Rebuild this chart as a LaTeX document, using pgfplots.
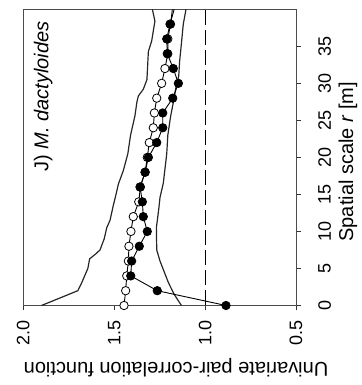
\documentclass[border=0pt]{standalone}
\usepackage{pgfplots}
\pgfplotsset{compat=1.18}
\usepackage{fontspec}
\setmainfont{Liberation Sans}
\begin{document}
\begin{tikzpicture}
\begin{axis}[
  scale only axis, width=272.7pt, height=296.2pt,
  xmin=0.5, xmax=2.0, x dir=reverse,
  ymin=0, ymax=40,
  xtick={0.5,1.0,1.5,2.0},
  xticklabels={0.5,1.0,1.5,2.0},
  ytick={0,5,...,35},
  xtick pos=left, ytick pos=right,
  tick align=outside, major tick length=5pt,
  tick style={black!80, line width=0.8pt},
  axis line style={black!70, line width=1pt},
  /pgf/number format/assume math mode=true,
  ticklabel style={font=\fontsize{18}{20}\selectfont},
  xticklabel style={rotate=90, anchor=east, inner sep=0pt},
  yticklabel style={rotate=90, anchor=north, inner sep=0pt},
  xticklabel shift=9.5pt,
  yticklabel shift=17pt,
  xlabel={Univariate pair-correlation function},
  ylabel={Spatial scale \textit{r} [m]},
  every axis x label/.style={at={(axis description cs:0.56,0)}, yshift=-62.5pt, rotate=180, anchor=center, font=\fontsize{20}{24}\selectfont},
  every axis y label/.style={at={(axis description cs:1,0.4855)}, xshift=52pt, rotate=90, anchor=center, font=\fontsize{20}{24}\selectfont},
  clip=true,
]
% dashed reference
\addplot[black, line width=0.9pt, dash pattern=on 15pt off 5pt] coordinates {(1,0) (1,40)};
% upper envelope
\addplot[black!85, line width=1.2pt] coordinates {
(1.90,0) (1.70,2) (1.68,3) (1.645,5) (1.635,6.3) (1.60,7) (1.578,7.5) (1.555,9) (1.541,10.5) (1.523,11.5) (1.505,13.5) (1.49,15) (1.477,16.4) (1.45,18.2) (1.425,20.5) (1.41,23) (1.386,25.6) (1.375,27.5) (1.367,28.3) (1.34,29.2) (1.32,30.5) (1.312,34.3) (1.294,35.7) (1.276,38.4) (1.29,40)
};
% lower envelope
\addplot[black!85, line width=1.2pt] coordinates {
(1.13,0) (1.17,1.5) (1.202,3.1) (1.248,6) (1.266,7.5) (1.268,10.5) (1.255,13) (1.248,14.6) (1.23,16.5) (1.211,20.5) (1.205,23) (1.19,25.5) (1.175,27.4) (1.16,29.5) (1.145,31) (1.14,33) (1.129,35.7) (1.12,38) (1.105,40)
};
% line stubs to top
\addplot[black, line width=0.9pt] coordinates {(1.19,38) (1.18,40)};
\addplot[black, line width=0.9pt] coordinates {(1.193,38) (1.17,40)};
% open circles
\addplot[black, line width=0.9pt, mark=*, mark size=4.2pt, mark options={fill=white, line width=0.8pt}] coordinates {
(1.446,0) (1.437,2) (1.431,4) (1.422,6) (1.419,8) (1.408,10) (1.395,12) (1.365,14) (1.356,16) (1.33,18) (1.318,20) (1.307,22) (1.285,24) (1.279,26) (1.266,28) (1.239,30) (1.221,32) (1.205,34) (1.205,36) (1.19,38)
};
% filled circles
\addplot[black, line width=0.9pt, mark=*, mark size=4.2pt, mark options={fill=black, line width=0.8pt}] coordinates {
(0.885,0) (1.263,2) (1.409,4) (1.404,6) (1.362,8) (1.318,10) (1.34,12) (1.345,14) (1.358,16) (1.33,18) (1.312,20) (1.266,22) (1.233,24) (1.233,26) (1.178,28) (1.147,30) (1.175,32) (1.208,34) (1.211,36) (1.193,38)
};
\node[rotate=90, anchor=center, font=\fontsize{20}{24}\selectfont] at (axis description cs:0.073,0.705) {J) \textit{M. dactyloides}};
\end{axis}
\path[use as bounding box] (-23.3pt,-79.5pt) rectangle (337.7pt,305.5pt);
\end{tikzpicture}
\end{document}
